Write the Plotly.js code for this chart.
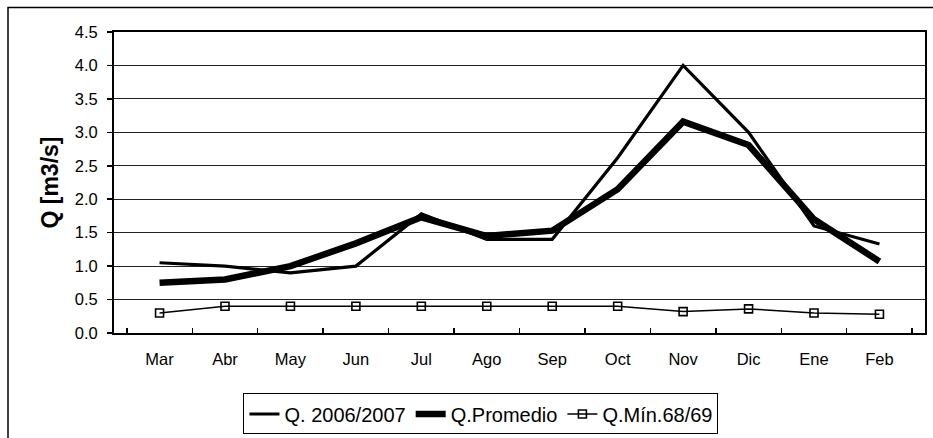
<!DOCTYPE html>
<html>
<head>
<meta charset="utf-8">
<script src="https://cdn.plot.ly/plotly-3.0.1.min.js"></script>
<style>html,body{margin:0;padding:0;background:#fff;}#chart{width:933px;height:438px;}</style>
</head>
<body>
<div id="chart"></div>
<script>
const months = ["Mar","Abr","May","Jun","Jul","Ago","Sep","Oct","Nov","Dic","Ene","Feb"];
const q2006 = [1.05, 1.00, 0.90, 1.00, 1.78, 1.40, 1.40, 2.62, 4.00, 3.00, 1.60, 1.33];
const qProm = [0.75, 0.80, 1.00, 1.34, 1.73, 1.45, 1.53, 2.15, 3.16, 2.81, 1.70, 1.07];
const qMin  = [0.30, 0.40, 0.40, 0.40, 0.40, 0.40, 0.40, 0.40, 0.32, 0.36, 0.30, 0.28];
const yTicks = [0,0.5,1,1.5,2,2.5,3,3.5,4,4.5];

const font = "Liberation Sans, Arial, sans-serif";
const traces = [
  {x: months, y: q2006, name: "Q. 2006/2007", type: "scatter", mode: "lines",
   line: {color: "#000", width: 3.2}},
  {x: months, y: qProm, name: "Q.Promedio", type: "scatter", mode: "lines",
   line: {color: "#000", width: 6.5}},
  {x: months, y: qMin, name: "Q.Mín.68/69", type: "scatter", mode: "lines+markers",
   line: {color: "#000", width: 1.5},
   marker: {symbol: "square-open", size: 8, color: "#000", line: {color: "#000", width: 1.6}}}
];
const layout = {
  width: 933, height: 438,
  margin: {l: 114, r: 8, t: 32, b: 105, autoexpand: false},
  paper_bgcolor: "#fff", plot_bgcolor: "#fff",
  font: {family: font, color: "#000", size: 16},
  showlegend: true,
  legend: {orientation: "h", xref: "container", yref: "container",
           x: 0.5155, xanchor: "center", y: 0.0548, yanchor: "middle",
           bordercolor: "#000", borderwidth: 1, font: {size: 20, family: font},
           itemwidth: 30, tracegroupgap: 0},
  xaxis: {type: "category", showline: true, linecolor: "#000", linewidth: 2, mirror: true,
          ticks: "inside", tickson: "boundaries", ticklen: 5, tickcolor: "#000", tickwidth: 1.5,
          showgrid: false, zeroline: false, ticklabelstandoff: 10,
          tickfont: {size: 16.5, family: font}},
  yaxis: {range: [0, 4.5], tickvals: yTicks, tickformat: ".1f",
          showline: true, linecolor: "#000", linewidth: 2, mirror: true,
          ticks: "outside", ticklen: 5, tickcolor: "#000", tickwidth: 1.5,
          showgrid: true, gridcolor: "#222", gridwidth: 1, zeroline: false,
          ticklabelstandoff: 6,
          tickfont: {size: 16.5, family: font},
          title: {text: "Q [m3/s]", font: {size: 23, family: font, weight: "bold"}, standoff: 10}},
  shapes: [
    {type: "rect", xref: "paper", yref: "paper",
     x0: -0.1307, x1: 1.02, y0: -0.4, y1: 1.0814,
     line: {color: "#000", width: 1.5}, fillcolor: "rgba(0,0,0,0)"}
  ]
};
Plotly.newPlot("chart", traces, layout, {displayModeBar: false, staticPlot: true});
</script>
</body>
</html>
